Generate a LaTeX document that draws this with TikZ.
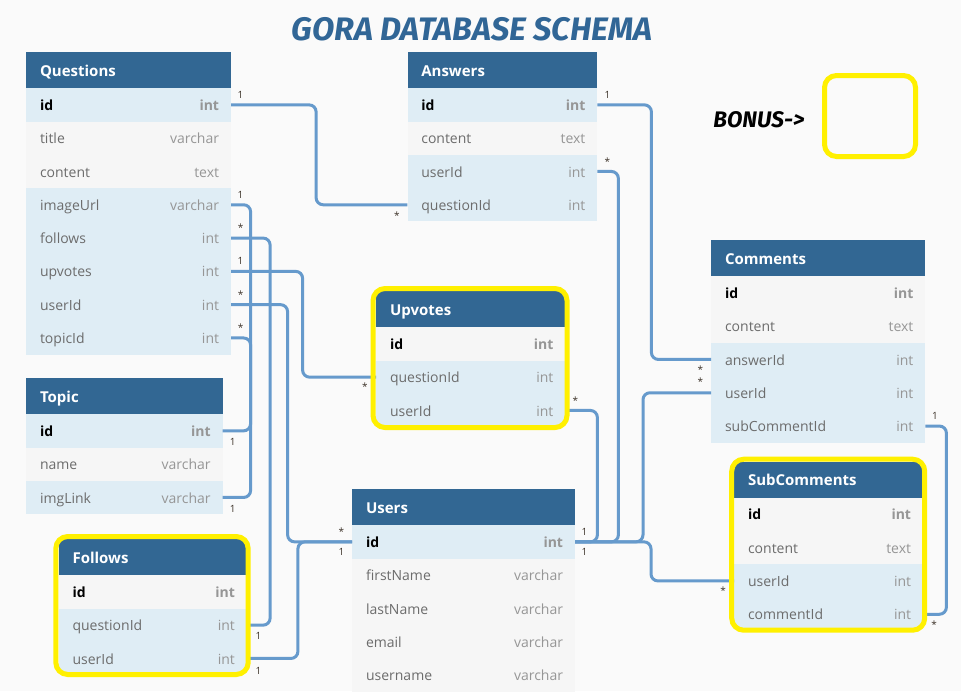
\documentclass[tikz,border=0pt]{standalone}
\usepackage{fontspec}
\setmainfont{Open Sans}
\newfontfamily\handfont{Fira Sans}
\usetikzlibrary{positioning}
\definecolor{bgcol}{RGB}{250,250,250}
\definecolor{headblue}{RGB}{50,103,147}
\definecolor{rowblue}{RGB}{223,237,245}
\definecolor{rowgrey}{RGB}{246,246,246}
\definecolor{namegray}{RGB}{108,108,108}
\definecolor{typegray}{RGB}{150,150,150}
\definecolor{linkblue}{RGB}{102,154,204}
\definecolor{hiyellow}{RGB}{255,240,0}
\definecolor{titleblue}{RGB}{49,102,150}
\definecolor{cardgray}{RGB}{60,50,40}

\begin{document}
\begin{tikzpicture}[x=1pt,y=-1pt,font=\fontsize{14}{16}\selectfont,
    head/.style={fill=headblue,minimum width=#1,minimum height=36pt,anchor=north west,inner sep=0pt},
    headtext/.style={anchor=west,xshift=10.5pt,yshift=-2.5pt,text=white,text height=11pt,text depth=3.5pt,font=\fontsize{15}{17}\selectfont\bfseries},
    row/.style={minimum width=#1,minimum height=33.3pt,anchor=north west,inner sep=0pt},
    fname/.style={anchor=west,xshift=10.5pt,yshift=-1.8pt,text=namegray,text height=10.5pt,text depth=3pt},
    ftype/.style={anchor=east,xshift=-8.5pt,yshift=-1.8pt,text=typegray,text height=10.5pt,text depth=3pt},
    keyname/.style={fname,text=black,font=\fontsize{14}{16}\selectfont\bfseries},
    keytype/.style={ftype,font=\fontsize{14}{16}\selectfont\bfseries},
    rel/.style={draw=linkblue,line width=3pt,rounded corners=7pt},
    card/.style={text=cardgray,font=\fontsize{10}{10}\selectfont,inner sep=0pt},
    hilite/.style={draw=hiyellow,line width=5pt,rounded corners=12pt}]

\fill[bgcol] (0,0) rectangle (961,691);
\useasboundingbox (0,0) rectangle (961,691);

\node[text=titleblue,font=\handfont\fontsize{32.5}{34}\selectfont\bfseries\itshape] (title) at (472,29) {GORA DATABASE SCHEMA};

% Questions
\node[head=204.7,label={[headtext]west:Questions}] (q) at (26,52) {};
\node[row=204.7,fill=rowblue,label={[keyname]west:id},label={[keytype]east:int}] (q-id) at (26,88) {};
\foreach \n/\t/\c [count=\i] in {title/varchar/rowgrey,content/text/rowgrey,imageUrl/varchar/rowblue,
    follows/int/rowblue,upvotes/int/rowblue,userId/int/rowblue,topicId/int/rowblue}
  \node[row=204.7,fill=\c,label={[fname]west:\n},label={[ftype]east:\t}] (q-\n) at (26,{88+\i*33.3}) {};

% Answers
\node[head=189.7,label={[headtext]west:Answers}] (a) at (407.3,52) {};
\node[row=189.7,fill=rowblue,label={[keyname]west:id},label={[keytype]east:int}] (a-id) at (407.3,88) {};
\foreach \n/\t/\c [count=\i] in {content/text/rowgrey,userId/int/rowblue,questionId/int/rowblue}
  \node[row=189.7,fill=\c,label={[fname]west:\n},label={[ftype]east:\t}] (a-\n) at (407.3,{88+\i*33.3}) {};

% Comments
\node[head=214,label={[headtext]west:Comments}] (c) at (711,240) {};
\node[row=214,fill=rowgrey,label={[keyname]west:id},label={[keytype]east:int}] (c-id) at (711,276) {};
\foreach \n/\t/\c [count=\i] in {content/text/rowgrey,answerId/int/rowblue,userId/int/rowblue,subCommentId/int/rowblue}
  \node[row=214,fill=\c,label={[fname]west:\n},label={[ftype]east:\t}] (c-\n) at (711,{276+\i*33.3}) {};

% Topic
\node[head=196.3,label={[headtext]west:Topic}] (t) at (26,378) {};
\node[row=196.3,fill=rowblue,label={[keyname]west:id},label={[keytype]east:int}] (t-id) at (26,414) {};
\foreach \n/\t/\c [count=\i] in {name/varchar/rowgrey,imgLink/varchar/rowblue}
  \node[row=196.3,fill=\c,label={[fname]west:\n},label={[ftype]east:\t}] (t-\n) at (26,{414+\i*33.3}) {};

% Users
\node[head=222.7,label={[headtext]west:Users}] (u) at (352,489) {};
\node[row=222.7,fill=rowblue,label={[keyname]west:id},label={[keytype]east:int}] (u-id) at (352,525) {};
\foreach \n/\t/\c [count=\i] in {firstName/varchar/rowgrey,lastName/varchar/rowgrey,email/varchar/rowgrey,username/varchar/rowgrey}
  \node[row=222.7,fill=\c,label={[fname]west:\n},label={[ftype]east:\t}] (u-\n) at (352,{525+\i*33.3}) {};

% Upvotes
\begin{scope}
  \clip[rounded corners=12pt] (373,288.5) rectangle (567,427.5);
  \node[head=189,label={[headtext]west:Upvotes}] (up) at (376,291) {};
  \node[row=189,fill=rowgrey,label={[keyname]west:id},label={[keytype]east:int}] (up-id) at (376,327) {};
  \foreach \n/\t/\c [count=\i] in {questionId/int/rowblue,userId/int/rowblue}
    \node[row=189,fill=\c,label={[fname]west:\n},label={[ftype]east:\t}] (up-\n) at (376,{327+\i*33.3}) {};
\end{scope}

% Follows
\begin{scope}
  \clip[rounded corners=12pt] (55.8,536.5) rectangle (248.2,674.5);
  \node[head=188,label={[headtext]west:Follows}] (f) at (58.5,539) {};
  \node[row=188,fill=rowgrey,label={[keyname]west:id},label={[keytype]east:int}] (f-id) at (58.5,575) {};
  \foreach \n/\t/\c [count=\i] in {questionId/int/rowblue,userId/int/rowblue}
    \node[row=188,fill=\c,label={[fname]west:\n},label={[ftype]east:\t}] (f-\n) at (58.5,{575+\i*33.3}) {};
\end{scope}

% SubComments
\begin{scope}
  \clip[rounded corners=12pt] (731.7,459.2) rectangle (924.7,630.2);
  \node[head=188.7,label={[headtext]west:SubComments}] (s) at (734,461.5) {};
  \node[row=188.7,fill=rowgrey,label={[keyname]west:id},label={[keytype]east:int}] (s-id) at (734,497.5) {};
  \foreach \n/\t/\c [count=\i] in {content/text/rowgrey,userId/int/rowblue,commentId/int/rowblue}
    \node[row=188.7,fill=\c,label={[fname]west:\n},label={[ftype]east:\t}] (s-\n) at (734,{497.5+\i*33.3}) {};
\end{scope}

% relations
\draw[rel] (q-id.east) node[card,xshift=9.5pt,yshift=10pt] {1} -- ++(85,0) |- (a-questionId.west) node[card,xshift=-10.5pt,yshift=-10.5pt] {*};
\draw[rel] (a-id.east) node[card,xshift=10pt,yshift=10pt] {1} -- ++(54,0) |- (c-answerId.west) node[card,xshift=-10.5pt,yshift=-10.5pt] {*};
\draw[rel] (a-userId.east) node[card,xshift=10pt,yshift=10pt] {*} -- ++(21,0) |- (u-id.east) node[card,xshift=9.5pt,yshift=10pt] {1};
\draw[rel] (up-userId.east) node[card,xshift=10pt,yshift=10pt] {*} -- ++(32,0) |- (u-id.east) node[card,xshift=9.5pt,yshift=-10.5pt] {1};
\draw[rel] (c-userId.west) node[card,xshift=-10.5pt,yshift=11pt] {*} -- ++(-68,0) |- (u-id.east);
\draw[rel] (s-userId.west) node[card,xshift=-11pt,yshift=-9.5pt] {*} -- ++(-83,0) |- (u-id.east);
\draw[rel] (c-subCommentId.east) node[card,xshift=9.5pt,yshift=10pt] {1} -- ++(21,0) |- (s-commentId.east) node[card,xshift=11pt,yshift=-10.5pt] {*};
\draw[rel] (q-imageUrl.east) node[card,xshift=9.5pt,yshift=10pt] {1} -- ++(19.5,0) |- (t-imgLink.east) node[card,xshift=10pt,yshift=-11.5pt] {1};
\draw[rel] (q-topicId.east) node[card,xshift=9.5pt,yshift=10pt] {*} -- ++(19.5,0) |- (t-id.east) node[card,xshift=10pt,yshift=-11.5pt] {1};
\draw[rel] (q-follows.east) node[card,xshift=9.5pt,yshift=10pt] {*} -- ++(39,0) |- (f-questionId.east) node[card,xshift=11.5pt,yshift=-11pt] {1};
\draw[rel] (q-userId.east) node[card,xshift=9.5pt,yshift=10pt] {*} -- ++(56.5,0) |- (u-id.west) node[card,xshift=-10.5pt,yshift=10pt] {*};
\draw[rel] (f-userId.east) node[card,xshift=11.5pt,yshift=-12pt] {1} -- ++(51,0) |- (u-id.west) node[card,xshift=-10.5pt,yshift=-10pt] {1};
\draw[rel] (q-upvotes.east) node[card,xshift=9.5pt,yshift=10pt] {1} -- ++(71.5,0) |- (up-questionId.west) node[card,xshift=-11pt,yshift=-10pt] {*};

% highlights
\draw[hilite] (373,288.5) rectangle (567,427.5);
\draw[hilite] (55.8,536.5) rectangle (248.2,674.5);
\draw[hilite] (731.7,459.2) rectangle (924.7,630.2);
\node[hilite,minimum width=91pt,minimum height=81pt] (bonus) at (870,116) {};
\node[left=14pt of bonus,yshift=-4pt,font=\handfont\fontsize{22.5}{24}\selectfont\bfseries\itshape] (bonus-text) {BONUS->};
\end{tikzpicture}
\end{document}
